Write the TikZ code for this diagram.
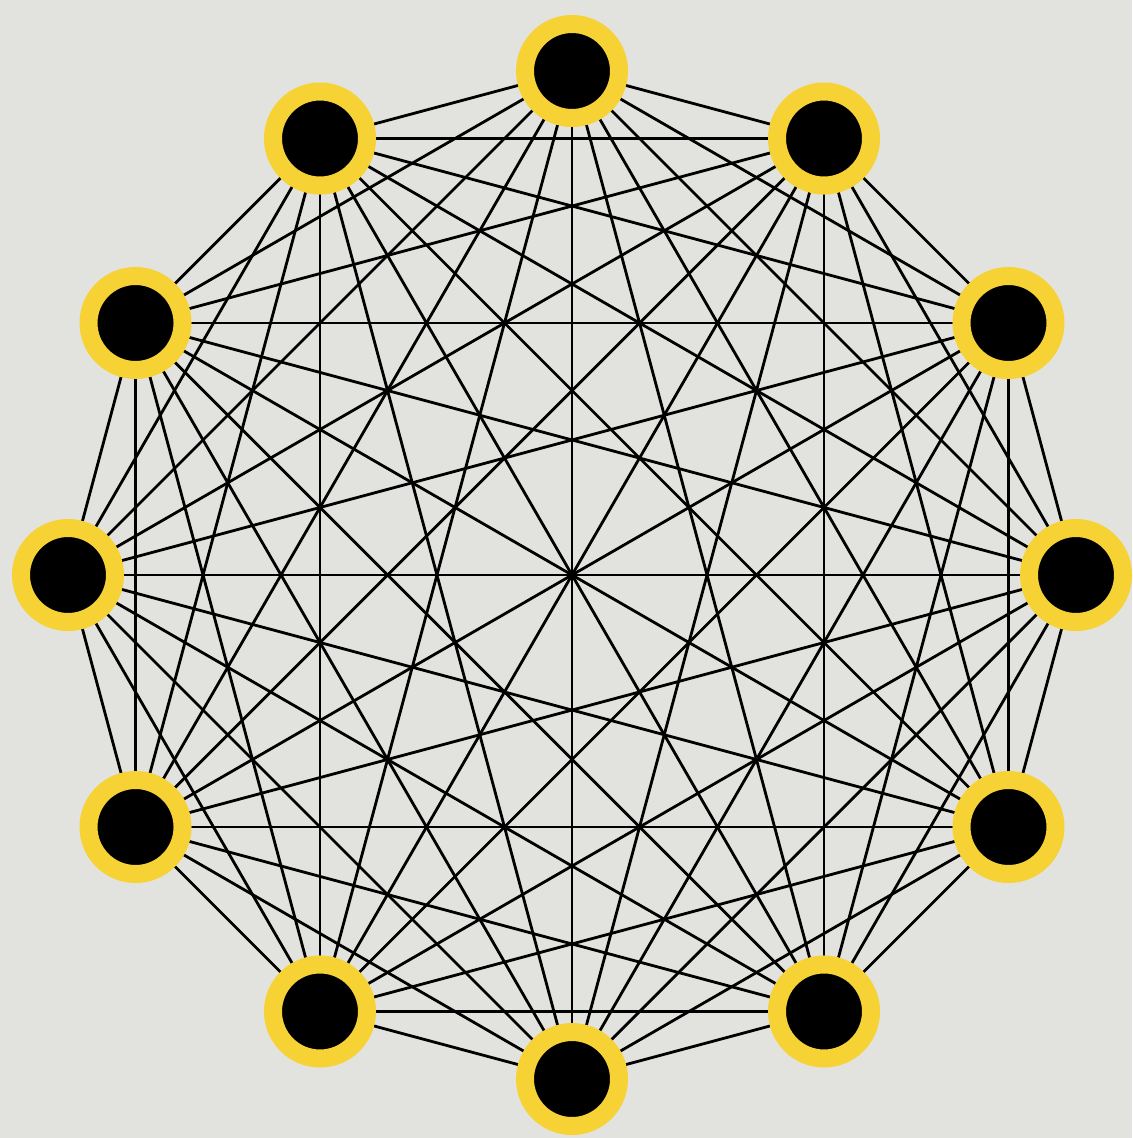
\documentclass[tikz,border=0pt]{standalone}
\usetikzlibrary{backgrounds}
\definecolor{bgc}{RGB}{226,227,222}
\definecolor{ring}{RGB}{246,210,52}
\begin{document}
\begin{tikzpicture}[x=0.5pt,y=-0.5pt,
  vert/.style={circle,draw=ring,fill=black,line width=9pt,minimum size=47pt,inner sep=0pt},
  edge/.style={line width=1.4pt,black}]
\useasboundingbox (0,0) rectangle (1132,1138);
\foreach \i in {0,...,11}{
  \node[vert] (n\i) at ({572+504*cos(90+30*\i)},{575-504*sin(90+30*\i)}) {};
}
\begin{scope}[on background layer]
\fill[bgc] (0,0) rectangle (1132,1138);
\foreach \i in {0,...,10}{
  \pgfmathtruncatemacro{\s}{\i+1}
  \foreach \j in {\s,...,11}{
    \draw[edge] (n\i.center) -- (n\j.center);
  }
}
\end{scope}
\end{tikzpicture}
\end{document}
